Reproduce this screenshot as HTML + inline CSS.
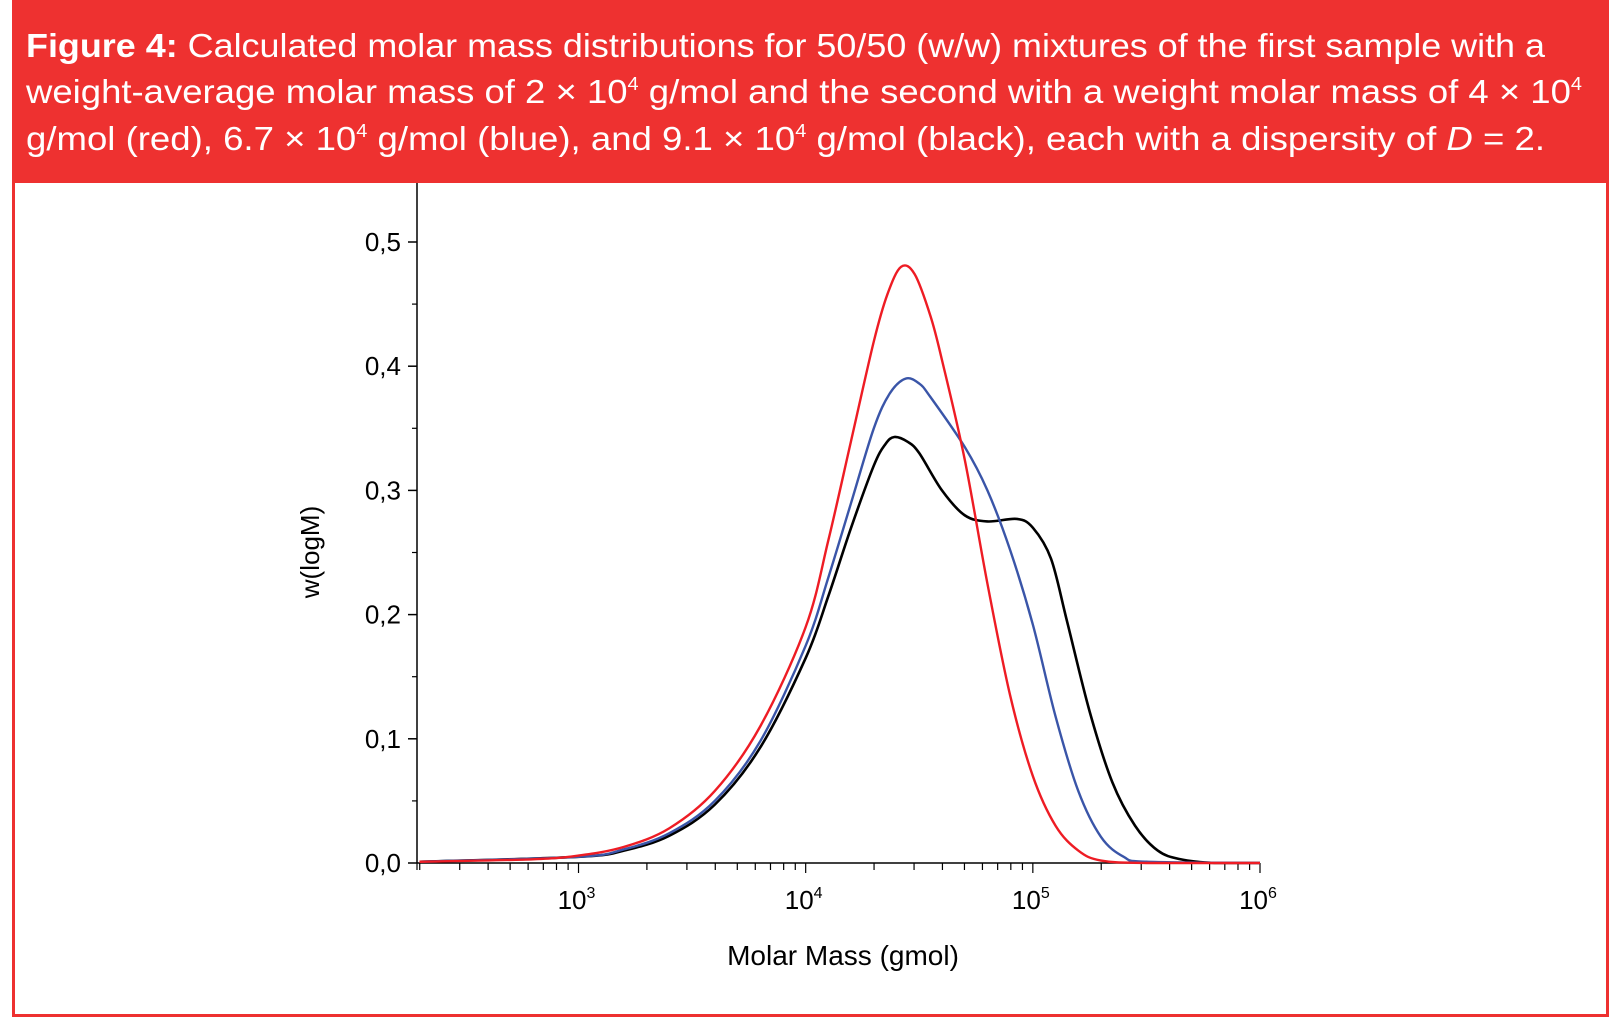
<!DOCTYPE html>
<html><head><meta charset="utf-8"><style>
html,body{margin:0;padding:0;background:#fff;}
svg{display:block;font-family:"Liberation Sans",sans-serif;}
</style></head><body>
<svg id="fig" width="1620" height="1028" viewBox="0 0 1620 1028" xmlns="http://www.w3.org/2000/svg">
<rect x="13.5" y="1.5" width="1594" height="1014" fill="#fff" stroke="#ee3130" stroke-width="3"/>
<rect x="12" y="0" width="1597" height="183" fill="#ee3130"/>
<g fill="#fff" font-size="33">
<text x="26" y="57" textLength="1519" lengthAdjust="spacingAndGlyphs"><tspan font-weight="bold">Figure 4:</tspan> Calculated molar mass distributions for 50/50 (w/w) mixtures of the first sample with a</text>
<text x="26" y="103" textLength="1556" lengthAdjust="spacingAndGlyphs">weight-average molar mass of 2 × 10<tspan font-size="18" dy="-13">4</tspan><tspan dy="13"> g/mol and the second with a weight molar mass of 4 × 10</tspan><tspan font-size="18" dy="-13">4</tspan></text>
<text x="26" y="150" textLength="1519" lengthAdjust="spacingAndGlyphs">g/mol (red), 6.7 ×  10<tspan font-size="18" dy="-13">4</tspan><tspan dy="13"> g/mol (blue), and 9.1 × 10</tspan><tspan font-size="18" dy="-13">4</tspan><tspan dy="13"> g/mol (black), each with a dispersity of </tspan><tspan font-style="italic">D</tspan> = 2.</text>
</g>
<g id="plot"></g>
</svg>
<script>
const xTickDecades = [3, 4, 5, 6];
const yTickValues = [0, 0.1, 0.2, 0.3, 0.4, 0.5];
const yTickLabels = ["0,0", "0,1", "0,2", "0,3", "0,4", "0,5"];
const redLogM = [2.3,2.8,3.0,3.2,3.4,3.6,3.8,4.0,4.1,4.2,4.3,4.36,4.42,4.48,4.55,4.6,4.7,4.8,4.9,5.0,5.1,5.2,5.3,5.5,6.0];
const redW = [0.001,0.003,0.006,0.013,0.028,0.058,0.11,0.19,0.26,0.34,0.42,0.458,0.48,0.474,0.44,0.405,0.325,0.225,0.135,0.07,0.03,0.01,0.002,0.0,0.0];
const blueLogM = [2.3,3.0,3.2,3.4,3.6,3.8,4.0,4.1,4.2,4.3,4.37,4.44,4.5,4.55,4.7,4.8,4.9,5.0,5.1,5.2,5.3,5.4,5.5,6.0];
const blueW = [0.001,0.005,0.011,0.024,0.05,0.098,0.175,0.23,0.29,0.35,0.378,0.39,0.386,0.375,0.335,0.3,0.252,0.192,0.118,0.058,0.021,0.005,0.001,0.0];
const blackLogM = [2.3,3.0,3.2,3.4,3.6,3.8,4.0,4.1,4.2,4.3,4.35,4.39,4.45,4.5,4.6,4.7,4.8,4.93,5.0,5.08,5.15,5.25,5.35,5.45,5.55,5.65,5.8,6.0];
const blackW = [0.001,0.005,0.01,0.022,0.047,0.093,0.165,0.215,0.27,0.32,0.337,0.343,0.339,0.33,0.3,0.28,0.275,0.277,0.27,0.245,0.195,0.122,0.065,0.03,0.01,0.003,0.0,0.0];

const NS = "http://www.w3.org/2000/svg";
const plot = document.getElementById("plot");
const X0 = 417, X1 = 1260, Y0 = 863, YTOP = 183;
const LMIN = 2.289, LMAX = 6;
const xs = l => X0 + (l - LMIN) / (LMAX - LMIN) * (X1 - X0);
const ys = v => Y0 - v / 0.5 * (Y0 - 242);
function mk(tag, attrs, parent) {
  const e = document.createElementNS(NS, tag);
  for (const k in attrs) e.setAttribute(k, attrs[k]);
  (parent || plot).appendChild(e);
  return e;
}
let ax = mk("line", {x1: X0, y1: YTOP, x2: X0, y2: Y0, stroke: "#000", "stroke-width": 1.5});


ax = mk("line", {x1: X0, y1: Y0, x2: X1, y2: Y0, stroke: "#000", "stroke-width": 1.5});


for (let i = 0; i < yTickValues.length; i++) {
  const y = ys(yTickValues[i]);
  mk("line", {x1: X0 - 9, y1: y, x2: X0, y2: y, stroke: "#000", "stroke-width": 1.5});
  if (i < yTickValues.length - 1) {
    const ym = ys(yTickValues[i] + 0.05);
    mk("line", {x1: X0 - 5, y1: ym, x2: X0, y2: ym, stroke: "#000", "stroke-width": 1.2});
  }
  const t = mk("text", {x: X0 - 16, y: y + 9, "text-anchor": "end", "font-size": 26});
  t.textContent = yTickLabels[i];
  
  
}
for (let d = 2; d < 6; d++) {
  for (let m = 1; m <= 9; m++) {
    const l = d + Math.log10(m);
    if (l < LMIN - 0.001) continue;
    const x = xs(l);
    mk("line", {x1: x, y1: Y0, x2: x, y2: Y0 + (m === 1 ? 10 : 7), stroke: "#000", "stroke-width": 1.2});
  }
}
mk("line", {x1: xs(6), y1: Y0, x2: xs(6), y2: Y0 + 10, stroke: "#000", "stroke-width": 1.2});
mk("line", {x1: X0, y1: Y0, x2: X0, y2: Y0 + 7, stroke: "#000", "stroke-width": 1.2});
for (const d of xTickDecades) {
  const t = mk("text", {x: xs(d) - 2, y: 909, "text-anchor": "middle", "font-size": 26});
  t.textContent = "10";
  const s = mk("tspan", {"font-size": 16, dy: -11}, t);
  s.textContent = String(d);
  
  
}
let tt = mk("text", {x: 843, y: 965, "text-anchor": "middle", "font-size": 28});
tt.textContent = "Molar Mass (gmol)";


tt = mk("text", {x: 0, y: 0, "text-anchor": "middle", "font-size": 26, transform: "translate(319,552) rotate(-90)"});
tt.textContent = "w(logM)";


function path(lx, ly) {
  const p = lx.map((l, i) => [xs(l), ys(ly[i])]);
  let d = "M" + p[0][0] + "," + p[0][1];
  for (let i = 0; i < p.length - 1; i++) {
    const a = p[Math.max(0, i - 1)], b = p[i], c = p[i + 1], e = p[Math.min(p.length - 1, i + 2)];
    const c1 = [b[0] + (c[0] - a[0]) / 6, b[1] + (c[1] - a[1]) / 6];
    const c2 = [c[0] - (e[0] - b[0]) / 6, c[1] - (e[1] - b[1]) / 6];
    c1[1] = Math.min(c1[1], Y0); c2[1] = Math.min(c2[1], Y0);
    d += " C" + c1 + " " + c2 + " " + c;
  }
  return d;
}
let s = mk("path", {d: path(blackLogM, blackW), fill: "none", stroke: "#000", "stroke-width": 2.6});


s = mk("path", {d: path(blueLogM, blueW), fill: "none", stroke: "#3a55a8", "stroke-width": 2.4});


s = mk("path", {d: path(redLogM, redW), fill: "none", stroke: "#ee1c24", "stroke-width": 2.4});


</script>
</body></html>
